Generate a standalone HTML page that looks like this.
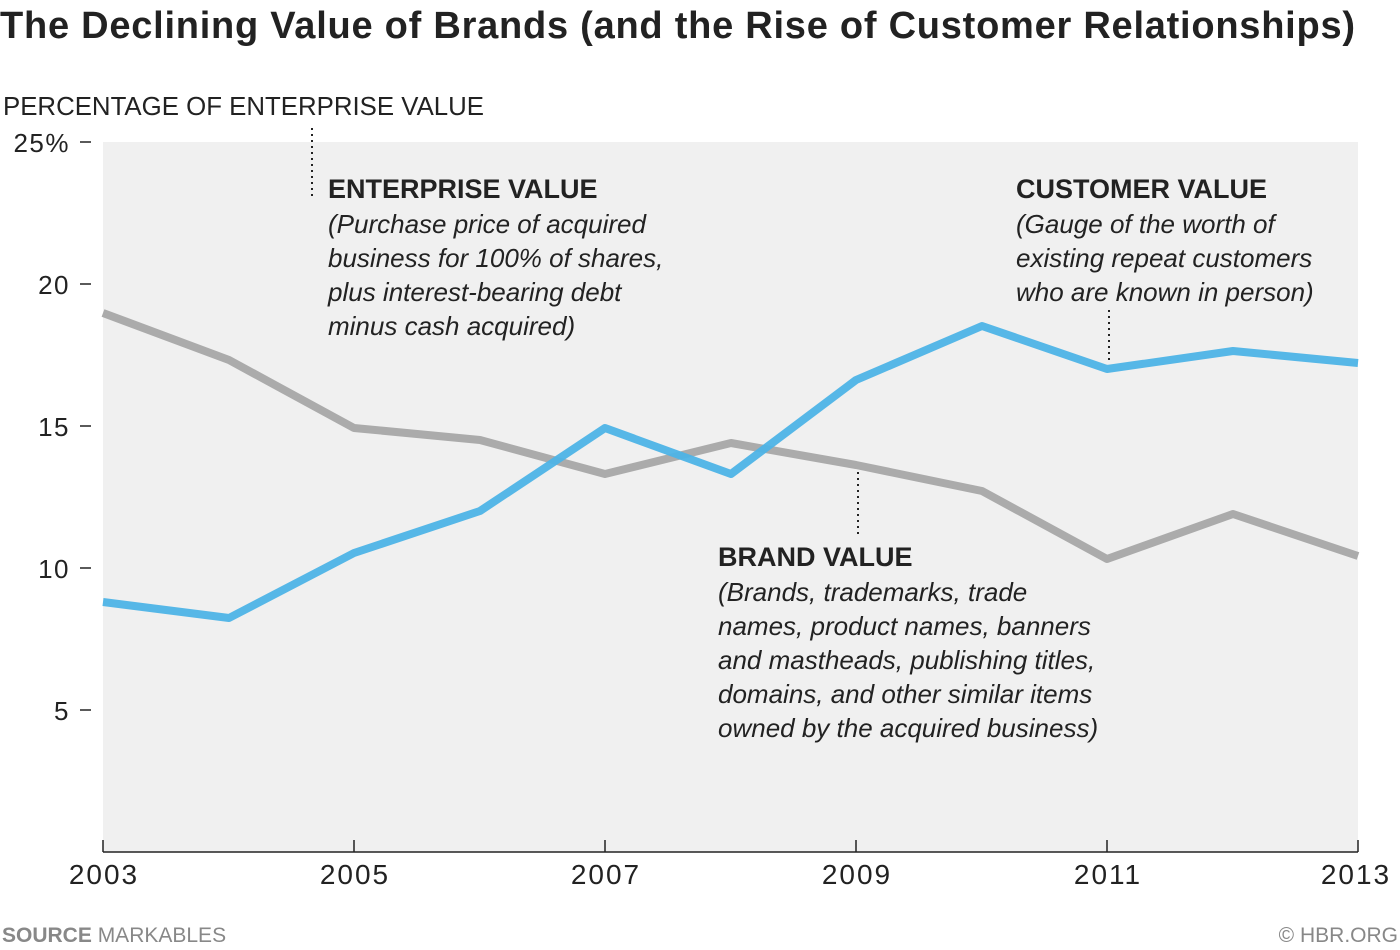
<!DOCTYPE html>
<html><head><meta charset="utf-8"><style>
html,body{margin:0;padding:0;background:#fff;}
svg{display:block;font-family:"Liberation Sans",sans-serif;}
</style></head><body>
<svg width="1400" height="950" viewBox="0 0 1400 950">
<text x="0" y="38" font-size="38" font-weight="bold" fill="#222" textLength="1355" lengthAdjust="spacing">The Declining Value of Brands (and the Rise of Customer Relationships)</text>
<text x="3" y="115" font-size="26" fill="#222" textLength="481" lengthAdjust="spacingAndGlyphs">PERCENTAGE OF ENTERPRISE VALUE</text>
<rect x="103" y="142" width="1255" height="710" fill="#f0f0f0"/>
<g font-size="26" fill="#222" text-anchor="end" letter-spacing="1.5">
<text x="70" y="152">25%</text><text x="70" y="294">20</text><text x="70" y="436">15</text><text x="70" y="578">10</text><text x="70" y="720">5</text>
</g>
<g stroke="#222" stroke-width="1.5">
<line x1="80" y1="142" x2="91" y2="142"/><line x1="80" y1="284" x2="91" y2="284"/><line x1="80" y1="426" x2="91" y2="426"/><line x1="80" y1="568" x2="91" y2="568"/><line x1="80" y1="710" x2="91" y2="710"/>
<line x1="103" y1="852" x2="1358" y2="852"/>
<line x1="103" y1="840" x2="103" y2="852"/><line x1="354" y1="840" x2="354" y2="852"/><line x1="605" y1="840" x2="605" y2="852"/><line x1="856" y1="840" x2="856" y2="852"/><line x1="1107" y1="840" x2="1107" y2="852"/><line x1="1358" y1="840" x2="1358" y2="852"/>
</g>
<g font-size="28" fill="#222" text-anchor="middle" letter-spacing="2">
<text x="104" y="884">2003</text><text x="355" y="884">2005</text><text x="606" y="884">2007</text><text x="857" y="884">2009</text><text x="1108" y="884">2011</text><text x="1356" y="884">2013</text>
</g>
<polyline fill="none" stroke="#a6a6a6" stroke-width="8" stroke-linejoin="round" stroke-opacity="0.95" points="103,313 229,360 354,428 480,440 605,474 731,443 856,465 982,491 1107,559 1233,514 1358,556"/>
<polyline fill="none" stroke="#4db3e6" stroke-width="8" stroke-linejoin="round" stroke-opacity="0.95" points="103,602 229,618 354,553 480,511 605,428 731,474 856,380 982,326 1107,369 1233,351 1358,363"/>
<g stroke="#222" stroke-width="2" stroke-dasharray="2,4">
<line x1="312" y1="128" x2="312" y2="197"/><line x1="1109" y1="310" x2="1109" y2="362"/><line x1="858" y1="472" x2="858" y2="535"/>
</g>
<g fill="#222" font-size="26">
<text x="328" y="198" font-weight="bold" font-size="27">ENTERPRISE VALUE</text>
<g font-style="italic"><text x="328" y="233">(Purchase price of acquired</text><text x="328" y="267">business for 100% of shares,</text><text x="328" y="301">plus interest-bearing debt</text><text x="328" y="335">minus cash acquired)</text></g>
<text x="1016" y="198" font-weight="bold" font-size="27">CUSTOMER VALUE</text>
<g font-style="italic"><text x="1016" y="233">(Gauge of the worth of</text><text x="1016" y="267">existing repeat customers</text><text x="1016" y="301">who are known in person)</text></g>
<text x="718" y="566" font-weight="bold" font-size="27">BRAND VALUE</text>
<g font-style="italic"><text x="718" y="601">(Brands, trademarks, trade</text><text x="718" y="635">names, product names, banners</text><text x="718" y="669">and mastheads, publishing titles,</text><text x="718" y="703">domains, and other similar items</text><text x="718" y="737">owned by the acquired business)</text></g>
</g>
<text x="2" y="942" font-size="21" fill="#888"><tspan font-weight="bold">SOURCE</tspan> MARKABLES</text>
<text x="1398" y="942" font-size="21" fill="#888" text-anchor="end">© HBR.ORG</text>
</svg>
</body></html>
